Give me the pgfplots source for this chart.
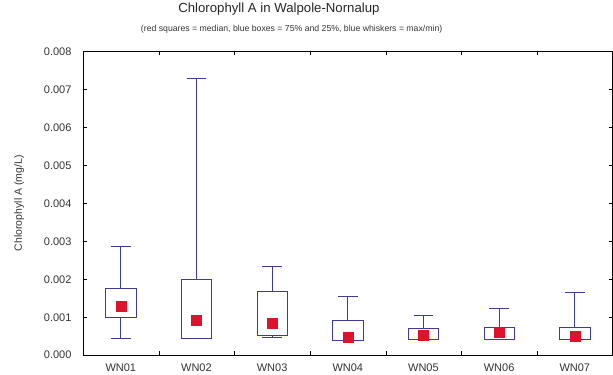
\documentclass[border=0pt]{standalone}
\usepackage{pgfplots}
\pgfplotsset{compat=1.18}
\usepgfplotslibrary{statistics}
\usepackage{fontspec}
\setmainfont{Liberation Sans}
\definecolor{boxblue}{RGB}{62,58,150}
\definecolor{medred}{RGB}{222,18,45}

\begin{document}
\begin{tikzpicture}
% values in units of 0.001 mg/L (boxplot overflows with raw mg/L values)
\begin{axis}[
    scale only axis,
    width=530pt, height=304pt,
    xmin=-0.5, xmax=6.5,
    ymin=0, ymax=8,
    xtick={0,1,2,3,4,5,6},
    xticklabels={WN01,WN02,WN03,WN04,WN05,WN06,WN07},
    major x tick style={draw=none},
    minor xtick={0.5,1.5,2.5,3.5,4.5,5.5},
    minor tick length=4pt,
    ytick={0,1,2,3,4,5,6,7,8},
    yticklabels={0.000,0.001,0.002,0.003,0.004,0.005,0.006,0.007,0.008},
    major tick length=4pt,
    tick label style={font=\fontsize{11}{12}\selectfont, text=black!80},
    yticklabel style={xshift=-8pt},
    xticklabel style={yshift=-5pt},
    ylabel={Chlorophyll A (mg/L)},
    ylabel style={font=\fontsize{10.5}{12}\selectfont, text=black!80, yshift=13pt},
    axis line style={black, line width=0.8pt},
    tick style={black},
    boxplot/draw direction=y,
    boxplot/every median/.style={draw=none},
    clip=false,
]
\addplot[draw=boxblue, line width=0.8pt, boxplot prepared={draw position=0, lower whisker=0.45, lower quartile=1.00, median=1.29, upper quartile=1.76, upper whisker=2.87, box extend=0.4, whisker extend=0.26}] coordinates {};
\addplot[draw=boxblue, line width=0.8pt, boxplot prepared={draw position=1, lower whisker=0.45, lower quartile=0.45, median=0.92, upper quartile=2.00, upper whisker=7.29, box extend=0.4, whisker extend=0.26}] coordinates {};
\addplot[draw=boxblue, line width=0.8pt, boxplot prepared={draw position=2, lower whisker=0.47, lower quartile=0.53, median=0.84, upper quartile=1.68, upper whisker=2.34, box extend=0.4, whisker extend=0.26}] coordinates {};
\addplot[draw=boxblue, line width=0.8pt, boxplot prepared={draw position=3, lower whisker=0.40, lower quartile=0.40, median=0.47, upper quartile=0.92, upper whisker=1.55, box extend=0.4, whisker extend=0.26}] coordinates {};
\addplot[draw=boxblue, line width=0.8pt, boxplot prepared={draw position=4, lower whisker=0.42, lower quartile=0.42, median=0.53, upper quartile=0.71, upper whisker=1.05, box extend=0.4, whisker extend=0.26}] coordinates {};
\addplot[draw=boxblue, line width=0.8pt, boxplot prepared={draw position=5, lower whisker=0.42, lower quartile=0.42, median=0.60, upper quartile=0.74, upper whisker=1.24, box extend=0.4, whisker extend=0.26}] coordinates {};
\addplot[draw=boxblue, line width=0.8pt, boxplot prepared={draw position=6, lower whisker=0.42, lower quartile=0.42, median=0.50, upper quartile=0.74, upper whisker=1.66, box extend=0.4, whisker extend=0.26}] coordinates {};
% medians
\addplot[only marks, mark=square*, mark size=5pt, color=medred] coordinates {
  (0,1.29) (1,0.92) (2,0.84) (3,0.47) (4,0.53) (5,0.60) (6,0.50)};
\node[font=\fontsize{13.2}{16}\selectfont, text=black!85] at (axis description cs:0.37,1.138) {Chlorophyll A in Walpole-Nornalup};
\node[font=\fontsize{8.7}{10}\selectfont, text=black!80] at (axis description cs:0.394,1.072) {(red squares = median, blue boxes = 75\% and 25\%, blue whiskers = max/min)};
\end{axis}
% blank margin on the left, as in the reference
\path (current axis.south west) ++(-83pt,0) -- ++(0,1pt);
\end{tikzpicture}
\end{document}
